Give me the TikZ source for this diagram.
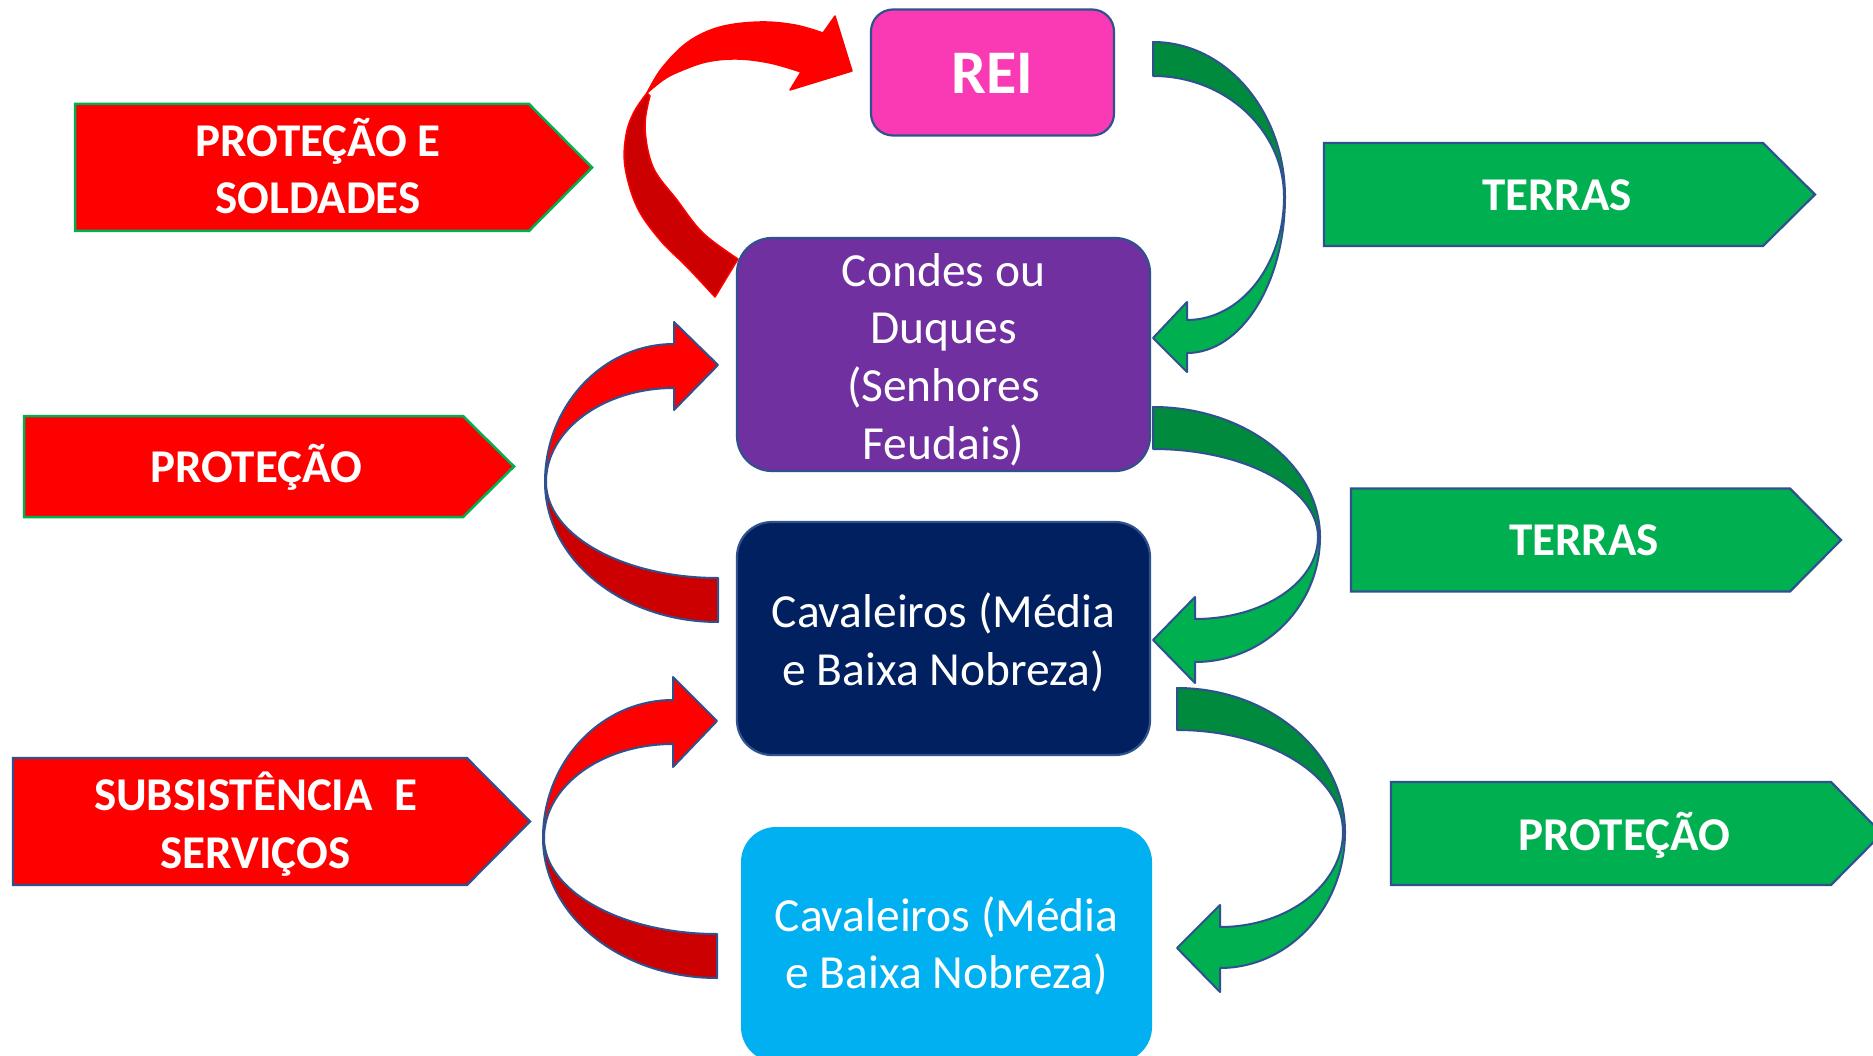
\documentclass[tikz,border=0pt]{standalone}
\usepackage{fontspec}
\setmainfont{Carlito}
\definecolor{reipink}{RGB}{250,58,180}
\definecolor{condpurple}{RGB}{112,48,160}
\definecolor{navyblue}{RGB}{0,32,96}
\definecolor{lightblue}{RGB}{0,176,240}
\definecolor{bred}{RGB}{255,0,0}
\definecolor{dred}{RGB}{204,0,0}
\definecolor{bgreen}{RGB}{0,176,80}
\definecolor{dgreen}{RGB}{0,138,62}
\definecolor{oblue}{RGB}{47,82,143}
\begin{document}
\begin{tikzpicture}[x=1pt,y=-1pt,
  box/.style={rounded corners=35pt, draw=oblue, line width=2.2pt, inner sep=0pt},
  boxtext/.style={text=white, align=center, inner sep=0pt, font={\fontsize{47.5}{57.6}\selectfont}},
  lbl/.style={text=white, align=center, inner sep=0pt, font={\fontsize{47}{57.4}\selectfont\bfseries}},
  penred/.style={fill=bred, draw=bgreen, line width=2.5pt},
  pengreen/.style={fill=bgreen, draw=oblue, line width=2.2pt},
  backg/.style={fill=dgreen, draw=oblue, line width=2pt, line join=round},
  frontg/.style={fill=bgreen, draw=oblue, line width=2pt, line join=round},
  backr/.style={fill=dred, draw=oblue, line width=2pt, line join=round},
  frontr/.style={fill=bred, draw=oblue, line width=2pt, line join=round}]
\useasboundingbox (0,0) rectangle (1873,1056);
\clip (0,0) rectangle (1873,1056);
\fill[white] (0,0) rectangle (1873,1056);

% ---- left red pentagons ----
\draw[penred] (75,104) -- (529,104) -- (592,167.5) -- (529,231) -- (75,231) -- cycle;
\node[lbl] (tA) at (318,166) {PROTEÇÃO E\\SOLDADES};
\draw[penred] (24,416) -- (463,416) -- (514,466.5) -- (463,517) -- (24,517) -- cycle;
\node[lbl] (tB) at (256,467) {PROTEÇÃO};
\draw[penred, draw=oblue, line width=2.2pt] (13,758) -- (467,758) -- (530,821.5) -- (467,885) -- (13,885) -- cycle;
\node[lbl] (tC) at (255.5,824) {SUBSISTÊNCIA\ \ E\\SERVIÇOS};

% ---- right green pentagons ----
\draw[pengreen] (1324,143) -- (1763,143) -- (1815,194.5) -- (1763,246) -- (1324,246) -- cycle;
\node[lbl] (tD) at (1557,195) {TERRAS};
\draw[pengreen] (1351,488.5) -- (1790,488.5) -- (1841,540) -- (1790,591.5) -- (1351,591.5) -- cycle;
\node[lbl] (tE) at (1584,540) {TERRAS};
\draw[pengreen] (1391,782) -- (1831,782) -- (1882,833.5) -- (1831,885) -- (1391,885) -- cycle;
\node[lbl] (tF) at (1624,835) {PROTEÇÃO};

% ---- top red curved arrow ----
\filldraw[fill=dred, draw=bred, line width=1.5pt, line join=round]
  plot[smooth, tension=0.6] coordinates {(647,93) (634,112) (626,135) (625,167) (637,207) (660,240) (687,267) (715,297)}
  -- (738,259)
  -- plot[smooth, tension=0.6] coordinates {(738,259) (703,233) (677,200) (653,167) (645,127) (650,96)} -- cycle;
\filldraw[fill=bred, draw=bred, line width=1.5pt, line join=round]
  plot[smooth, tension=0.6] coordinates {(647,93) (662,68) (688,42) (720,27) (760,22) (795,25) (823,33)}
  -- (835,16) -- (852,71) -- (790,90) -- (801,72)
  -- plot[smooth, tension=0.6] coordinates {(801,72) (770,63) (737,59) (706,62) (678,72) (663,80) (647,93)} -- cycle;

% ---- red side arrows ----
\path[backr] (718,622) arc[start angle=270, end angle=180, x radius=173pt, y radius=140pt]
  -- (546,482) arc[start angle=180, end angle=270, x radius=172pt, y radius=96pt] -- cycle;
\path[frontr] (546,482) arc[start angle=180, end angle=90, x radius=128pt, y radius=94pt]
  -- (674,410) -- (718,365) -- (674,322) -- (674,344)
  arc[start angle=90, end angle=180, x radius=129pt, y radius=138pt] -- cycle;

\path[backr] (717,978) arc[start angle=270, end angle=180, x radius=174pt, y radius=140pt]
  -- (544,838) arc[start angle=180, end angle=270, x radius=173pt, y radius=96pt] -- cycle;
\path[frontr] (544,838) arc[start angle=180, end angle=90, x radius=129pt, y radius=94pt]
  -- (673,767) -- (717,721) -- (673,677) -- (673,700)
  arc[start angle=90, end angle=180, x radius=130pt, y radius=138pt] -- cycle;

% ---- green curved arrows ----
\path[backg] (1153,42) arc[start angle=90, end angle=0, x radius=132pt, y radius=155pt]
  -- (1284,197) arc[start angle=0, end angle=90, x radius=131pt, y radius=121pt] -- cycle;
\path[frontg] (1284,197) arc[start angle=0, end angle=-90, x radius=97pt, y radius=123pt]
  -- (1187,302) -- (1153,338) -- (1187,372) -- (1187,353)
  arc[start angle=-90, end angle=0, x radius=98pt, y radius=156pt] -- cycle;

\path[backg] (1153,407) arc[start angle=90, end angle=0, x radius=167pt, y radius=130pt]
  -- (1318,537) arc[start angle=0, end angle=90, x radius=165pt, y radius=88pt] -- cycle;
\path[frontg] (1318,537) arc[start angle=0, end angle=-90, x radius=123pt, y radius=82pt]
  -- (1195,597) -- (1153,640) -- (1195,683) -- (1195,662)
  arc[start angle=-90, end angle=0, x radius=125pt, y radius=125pt] -- cycle;

\path[backg] (1177,688) arc[start angle=90, end angle=0, x radius=168pt, y radius=144pt]
  -- (1343,832) arc[start angle=0, end angle=90, x radius=166pt, y radius=102pt] -- cycle;
\path[frontg] (1343,832) arc[start angle=0, end angle=-90, x radius=123pt, y radius=95pt]
  -- (1220,905) -- (1177,948) -- (1220,992) -- (1220,968)
  arc[start angle=-90, end angle=0, x radius=125pt, y radius=136pt] -- cycle;

% ---- boxes ----
\node[box, fill=reipink, rounded corners=22pt, minimum width=243pt, minimum height=126pt] (rei) at (992.5,72.5) {};
\node[text=white, inner sep=0pt, font={\fontsize{62}{70}\selectfont\bfseries}] (reiT) at (992.5,73.5) {REI};
\node[box, fill=condpurple, minimum width=413pt, minimum height=233pt] (condes) at (943.5,354.5) {};
\node[boxtext] (condesT) at (943.5,359.5) {Condes ou\\Duques\\(Senhores\\Feudais)};
\node[box, fill=navyblue, minimum width=413pt, minimum height=233pt] (cav1) at (943.5,638.5) {};
\node[boxtext] (cav1T) at (943.5,642.5) {Cavaleiros (Média\\e Baixa Nobreza)};
\node[box, fill=lightblue, draw=none, minimum width=411pt, minimum height=235pt] (cav2) at (946.5,944.5) {};
\node[boxtext] (cav2T) at (946.5,946) {Cavaleiros (Média\\e Baixa Nobreza)};
\end{tikzpicture}
\end{document}
